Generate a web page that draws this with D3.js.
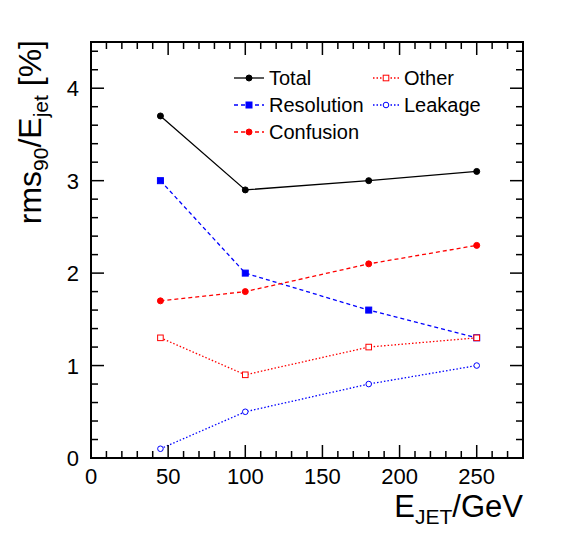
<!DOCTYPE html><html><head><script src="https://cdn.jsdelivr.net/npm/d3@7"></script>
<style>body{margin:0;background:#fff}text{font-family:"Liberation Sans",Arial,sans-serif}</style></head><body>
<svg id="c" width="567" height="539"></svg>
<script>
const energies=[45,100,180,250];
const total=[3.7,2.9,3.0,3.1];
const resolution=[3.0,2.0,1.6,1.3];
const confusion=[1.7,1.8,2.1,2.3];
const other=[1.3,0.9,1.2,1.3];
const leakage=[0.1,0.5,0.8,1.0];
const xTicks=[0,50,100,150,200,250];
const yTicks=[0,1,2,3,4];
const svg=d3.select("#c");
const L=91,R=523,T=42,B=458;
const x=d3.scaleLinear().domain([0,280]).range([L,R]);
const y=d3.scaleLinear().domain([0,4.5]).range([B,T]);
const series=[
 {name:"Total",v:total,c:"#000",dash:null,m:"dot",fill:true},
 {name:"Resolution",v:resolution,c:"#0000ff",dash:"4,3",m:"sq",fill:true},
 {name:"Confusion",v:confusion,c:"#ff0000",dash:"4,3",m:"dot",fill:true},
 {name:"Other",v:other,c:"#ff0000",dash:"1.5,2",m:"sq",fill:false},
 {name:"Leakage",v:leakage,c:"#0000ff",dash:"1.5,2",m:"dot",fill:false}];
function marker(g,m,c,fill,cx,cy){
 if(m==="dot") g.append("circle").attr("cx",cx).attr("cy",cy).attr("r",fill?3:2.8).attr("fill",fill?c:"#fff").attr("stroke",c).attr("stroke-width",1);
 else g.append("rect").attr("x",cx-(fill?3:2.8)).attr("y",cy-(fill?3:2.8)).attr("width",fill?6:5.6).attr("height",fill?6:5.6).attr("fill",fill?c:"#fff").attr("stroke",c).attr("stroke-width",1);
}
const line=d3.line().x((d,i)=>x(energies[i])).y(d=>y(d));
series.forEach(s=>{
 svg.append("path").attr("d",line(s.v)).attr("fill","none").attr("stroke",s.c).attr("stroke-width",1.3).attr("stroke-dasharray",s.dash);
 s.v.forEach((d,i)=>marker(svg,s.m,s.c,s.fill,x(energies[i]),y(d)));
});
svg.append("rect").attr("x",L).attr("y",T).attr("width",R-L).attr("height",B-T).attr("fill","none").attr("stroke","#000").attr("stroke-width",2);
const tk=svg.append("g").attr("stroke","#000").attr("stroke-width",1.5);
for(let v=0;v<=280;v+=10){const big=v%50===0,len=big?13:7;
 tk.append("line").attr("x1",x(v)).attr("x2",x(v)).attr("y1",B).attr("y2",B-len);
 tk.append("line").attr("x1",x(v)).attr("x2",x(v)).attr("y1",T).attr("y2",T+len);}
for(let i=0;i<=22;i++){const v=i*0.2,big=i%5===0,len=big?13:7;
 tk.append("line").attr("y1",y(v)).attr("y2",y(v)).attr("x1",L).attr("x2",L+len);
 tk.append("line").attr("y1",y(v)).attr("y2",y(v)).attr("x1",R).attr("x2",R-len);}
xTicks.forEach(v=>svg.append("text").attr("x",x(v)).attr("y",B+26).attr("text-anchor","middle").attr("font-size",22).text(v));
yTicks.forEach(v=>svg.append("text").attr("x",L-12).attr("y",y(v)+8).attr("text-anchor","end").attr("font-size",22).text(v));
const xt=svg.append("text").attr("x",R).attr("y",517).attr("text-anchor","end").attr("font-size",31);
xt.append("tspan").text("E");xt.append("tspan").attr("font-size",21).attr("dy",7).text("JET");xt.append("tspan").attr("dy",-7).text("/GeV");
const yt=svg.append("text").attr("transform","translate(41,"+(T-2)+") rotate(-90)").attr("text-anchor","end").attr("font-size",32);
yt.append("tspan").text("rms");yt.append("tspan").attr("font-size",21).attr("dy",7).text("90");yt.append("tspan").attr("dy",-7).text("/E");
yt.append("tspan").attr("font-size",21).attr("dy",7).text("jet");yt.append("tspan").attr("dy",-7).text(" [%]");
const leg=[[0,234,78],[1,234,105],[2,234,132],[3,373,78],[4,373,105]];
leg.forEach(([i,lx,ly])=>{const s=series[i];const w=i<3?30:26;
 svg.append("line").attr("x1",lx).attr("x2",lx+w).attr("y1",ly).attr("y2",ly).attr("stroke",s.c).attr("stroke-width",1.3).attr("stroke-dasharray",s.dash);
 marker(svg,s.m,s.c,s.fill,lx+w/2,ly);
 svg.append("text").attr("x",lx+w+5).attr("y",ly+7).attr("font-size",20).text(s.name);});
</script></body></html>
